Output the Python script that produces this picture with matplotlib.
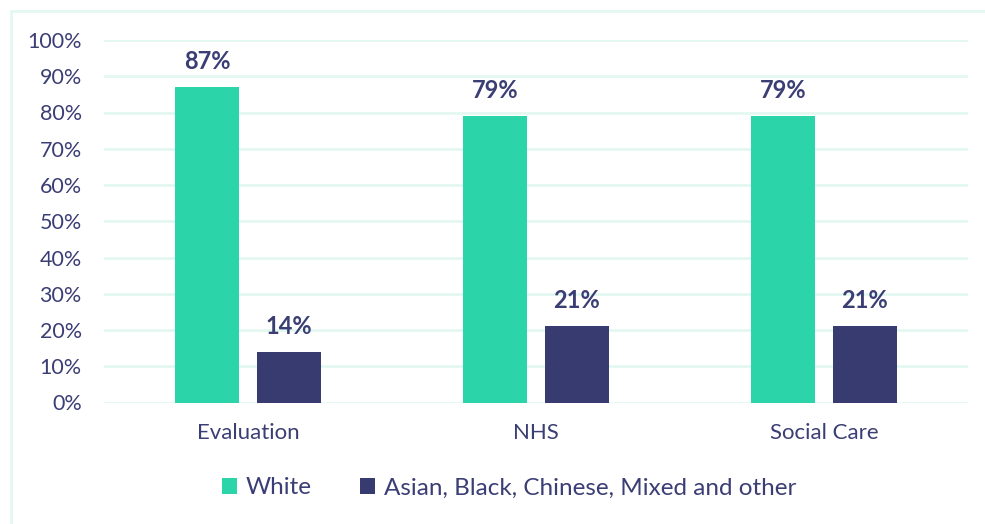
import matplotlib
matplotlib.use("Agg")
import matplotlib.pyplot as plt
from matplotlib.lines import Line2D
from matplotlib.patches import Patch
import numpy as np

categories = ["Evaluation", "NHS", "Social Care"]
white = [87, 79, 79]
other = [14, 21, 21]
series_names = ["White", "Asian, Black, Chinese, Mixed and other"]
yticks = [0, 10, 20, 30, 40, 50, 60, 70, 80, 90, 100]

TEAL = "#2bd4a9"
NAVY = "#383b6f"
TEXT = "#3b3e74"
GRID = "#e2f8f1"

plt.rcParams["font.family"] = ["Lato", "DejaVu Sans"]

W, H = 985, 524
fig = plt.figure(figsize=(W / 100, H / 100), dpi=100)
ax = fig.add_axes([104 / W, 1 - 402.5 / H, (968 - 104) / W, (402.5 - 40) / H])

x = np.arange(len(categories))
bw = 0.222
off = 0.142
b1 = ax.bar(x - off, white, bw, color=TEAL, linewidth=0, zorder=3)
b2 = ax.bar(x + off, other, bw, color=NAVY, linewidth=0, zorder=3)

for bars, vals in ((b1, white), (b2, other)):
    for rect, v in zip(bars, vals):
        ax.annotate(f"{v}%", (rect.get_x() + rect.get_width() / 2, v),
                    xytext=(0, 10), textcoords="offset points",
                    ha="center", va="bottom", fontsize=17,
                    fontweight="bold", color=TEXT)

ax.set_xlim(-0.5, 2.5)
ax.set_ylim(0, 100)
ax.set_yticks(yticks)
ax.set_yticklabels([f"{t}%" for t in yticks])
ax.set_xticks(x)
ax.set_xticklabels(categories)
ax.tick_params(axis="both", length=0, labelcolor=TEXT)
ax.tick_params(axis="y", pad=16, labelsize=15.5)
ax.tick_params(axis="x", pad=15, labelsize=16)
ax.grid(axis="y", color=GRID, linewidth=2, zorder=0)
for s in ax.spines.values():
    s.set_visible(False)

handles = [Patch(facecolor=TEAL), Patch(facecolor=NAVY)]
fig.legend(handles, series_names, loc="center", bbox_to_anchor=(509 / W, 1 - 488 / H),
           ncol=2, frameon=False, fontsize=17.5, labelcolor=TEXT,
           handlelength=0.62, handleheight=0.62, handletextpad=0.35,
           columnspacing=2.0)

# outer border
fig.add_artist(Line2D([11 / W, 1], [1 - 11 / H, 1 - 11 / H], color=GRID, linewidth=2,
                      transform=fig.transFigure))
fig.add_artist(Line2D([11 / W, 11 / W], [0, 1 - 11 / H], color=GRID, linewidth=2,
                      transform=fig.transFigure))

fig.savefig("out.png", dpi=100)
